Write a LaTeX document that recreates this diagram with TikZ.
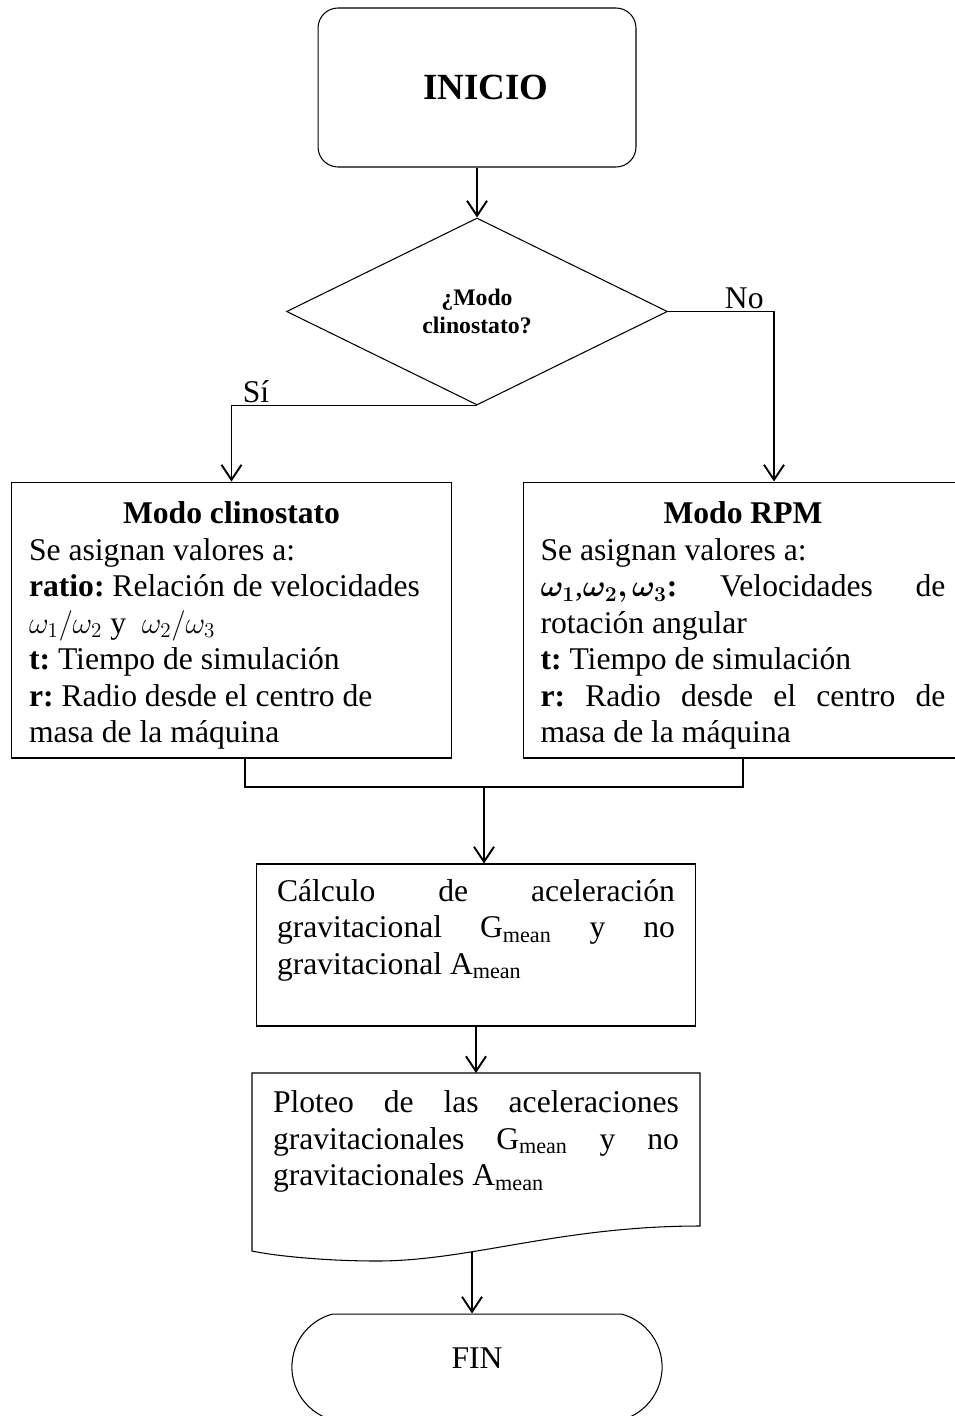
\documentclass[tikz,border=0pt]{standalone}
\usepackage{fontspec}
\setmainfont{Liberation Serif}
\usepackage{bm}
\usetikzlibrary{shapes.geometric}
\usetikzlibrary{shapes.misc}
\usetikzlibrary{arrows.meta}
\setlength{\parindent}{0pt}
\frenchspacing
\hyphenpenalty=10000
\exhyphenpenalty=10000
\tolerance=10000
\hbadness=10000

\begin{document}
\begin{tikzpicture}[x=0.02cm, y=-0.02cm,
  texto/.style={font=\fontsize{18}{20.8}\selectfont},
  inicio/.style={draw, line width=0.6pt, rounded corners=0.4cm, minimum width=6.36cm, minimum height=3.18cm, font=\fontsize{21}{25}\selectfont\bfseries},
  decision/.style={draw, diamond, line width=0.6pt, minimum width=7.62cm, minimum height=3.74cm, inner sep=0pt, align=center, font=\fontsize{13.5}{15.9}\selectfont\bfseries},
  modo/.style={draw, line width=0.6pt, text width=8.1cm, inner xsep=0.35cm, minimum height=5.52cm, texto},
  proceso/.style={draw, line width=0.6pt, text width=7.96cm, inner xsep=0.42cm, minimum height=3.24cm, align=justify, texto},
  fin/.style={draw, rounded rectangle, rounded rectangle arc length=150, line width=0.6pt, minimum width=7.64cm, minimum height=2.12cm, texto},
  flecha/.style={line width=1.1pt, -{Straight Barb[length=0.3cm, width=0.4cm]}},
  etiqueta/.style={texto, inner sep=1pt}]
\useasboundingbox (0,0) rectangle (955,1416);

\node[inicio] (inicio) at (477,87.5) {\hspace*{0.36cm}\raisebox{-0.06cm}{INICIO}};
\node[decision] (pregunta) at (477,311.5) {\raisebox{-0.05cm}{¿Modo}\\ \raisebox{-0.05cm}{clinostato?}};

\node[modo, align=flush left] (clino) at (231.5,620) {{\centering\rule{0pt}{0.66cm}\textbf{Modo clinostato}\par}
Se asignan valores a:\par
\textbf{ratio:} Relación de velocidades\\ $\omega_1/\omega_2$ y\ \ $\omega_2/\omega_3$\par
\textbf{t:} Tiempo de simulación\par
\textbf{r:} Radio desde el centro de\\ masa de la máquina};
\node[modo, align=justify] (rpm) at (743,620) {{\centering\rule{0pt}{0.66cm}\textbf{Modo RPM}\par}
Se asignan valores a:\par
$\bm{\omega_1}$,$\bm{\omega_2,\omega_3}$\textbf{:} Velocidades de\linebreak rotación angular\par
\textbf{t:} Tiempo de simulación\par
\textbf{r:} Radio desde el centro de\linebreak masa de la máquina};

\node[proceso] (calc) at (476,945) {Cálculo de aceleración\linebreak gravitacional G\textsubscript{mean} y no\linebreak gravitacional A\textsubscript{mean}\par\mbox{}};

\node[texto, text width=8.12cm, align=justify, anchor=north, inner xsep=0pt, inner ysep=0.35cm] (ploteo) at (476,1073) {Ploteo de las aceleraciones\linebreak gravitacionales G\textsubscript{mean} y no\linebreak gravitacionales A\textsubscript{mean}};
\draw[line width=0.6pt] (252,1073) -- (700,1073) -- (700,1226) .. controls (560,1226) and (470,1261) .. (377,1261) .. controls (320,1261) and (270,1255) .. (252,1251) -- cycle;

\node[fin] (final) at (477,1367) {\raisebox{0.36cm}{FIN}};

\coordinate (union) at (484,787);
\coordinate (salida) at (472,1252);

\draw[flecha] (inicio.south) -- (pregunta.north);
\draw[flecha] (pregunta.south) -| node[etiqueta, pos=0.45, above] (si) {Sí} (clino.north);
\draw[flecha] (pregunta.east) -| node[etiqueta, pos=0.36, above] (no) {No} ([xshift=0.62cm]rpm.north);
\draw[line width=0.6pt] ([xshift=0.27cm]clino.south) |- (union) -| (rpm.south);
\draw[flecha] (union) -- (union |- calc.north);
\draw[flecha] (calc.south) -- (ploteo.north);
\draw[flecha] (salida) -- (salida |- final.north);
\end{tikzpicture}
\end{document}
